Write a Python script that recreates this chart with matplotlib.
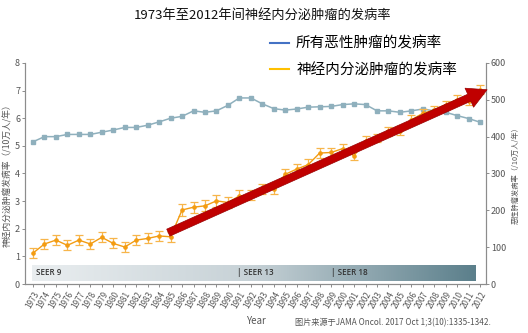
import matplotlib
matplotlib.use('Agg')
import matplotlib.pyplot as plt
import numpy as np
from matplotlib.colors import LinearSegmentedColormap
from matplotlib.lines import Line2D

plt.rcParams['font.family'] = ['Noto Sans CJK SC', 'DejaVu Sans']

years = list(range(1973, 2013))

# all malignant tumours, per 100k (right axis)
malignant_rate = [386, 400, 400, 406, 406, 406, 412, 418, 425, 425,
                  431, 440, 450, 455, 470, 466, 470, 485, 505, 505,
                  489, 476, 472, 475, 480, 481, 482, 487, 489, 487,
                  470, 470, 466, 470, 475, 470, 466, 457, 449, 439]

# neuroendocrine tumours, per 100k (left axis)
net_rate = [1.12, 1.45, 1.59, 1.40, 1.59, 1.45, 1.69, 1.47, 1.34, 1.59,
            1.65, 1.74, 1.71, 2.68, 2.78, 2.83, 3.01, 2.95, 3.19, 3.21,
            3.44, 3.45, 3.97, 4.16, 4.32, 4.74, 4.76, 4.90, 4.64, 5.19,
            5.28, 5.52, 5.55, 5.94, 6.18, 6.30, 6.49, 6.67, 6.64, 7.03]
net_err = [0.18, 0.18, 0.18, 0.18, 0.19, 0.18, 0.18, 0.18, 0.17, 0.18,
           0.18, 0.19, 0.18, 0.21, 0.20, 0.20, 0.21, 0.20, 0.20, 0.18,
           0.18, 0.20, 0.20, 0.19, 0.20, 0.18, 0.18, 0.15, 0.16, 0.15,
           0.15, 0.16, 0.16, 0.17, 0.17, 0.16, 0.15, 0.16, 0.17, 0.16]

seer_labels = ['SEER 9', '| SEER 13', '| SEER 18']
seer_years = [1973.3, 1990.8, 1999.0]

trend_start = (1984.8, 1.86)
trend_end = (2012.6, 7.03)

fig = plt.figure(figsize=(5.28, 3.33), dpi=100)
ax = fig.add_axes([0.0473, 0.147, 0.873, 0.664])
ax2 = ax.twinx()
ax.set_zorder(ax2.get_zorder() + 1)
ax.patch.set_visible(False)

grey = '#8c8c8c'
txt = '#555555'

ax2.plot(years, malignant_rate, color='#8fb0bd', marker='s', markersize=2.8, lw=1.1)

ax.errorbar(years, net_rate, yerr=net_err, color='#f39c12', ecolor='#f7b54a',
            marker='o', markersize=2.3, lw=1.0, elinewidth=0.9, capsize=2.8, capthick=0.9)

# SEER gradient band
cmap = LinearSegmentedColormap.from_list('seer', ['#eaeef0', '#c6d1d6', '#5b7f8b'])
grad = np.linspace(0, 1, 256).reshape(1, -1)
ax.imshow(grad, cmap=cmap, extent=[1972.9, 2011.6, 0.12, 0.69], aspect='auto', zorder=1)
for lab, yx in zip(seer_labels, seer_years):
    ax.text(yx, 0.40, lab, fontsize=5.8, color='#333333', va='center', ha='left',
            family=['Open Sans', 'DejaVu Sans'], fontweight='semibold', zorder=2)

ax.annotate('', xy=trend_end, xytext=trend_start, annotation_clip=False,
            arrowprops=dict(width=5.5, headwidth=15, headlength=14,
                            facecolor='#c00000', edgecolor='#9a0000', lw=0.5),
            zorder=10)

ax.set_xlim(1972.3, 2012.5)
ax.set_ylim(0, 8)
ax2.set_ylim(0, 600)
ax.set_yticks(range(0, 9))
ax2.set_yticks(range(0, 601, 100))
ax.set_xticks(years)
ax.set_xticklabels([str(y) for y in years], rotation=60, ha='right',
                   rotation_mode='anchor', fontsize=5.8, color=txt)

for a in (ax, ax2):
    for s in a.spines.values():
        s.set_color(grey)
        s.set_linewidth(0.8)
    a.spines['top'].set_visible(False)
    a.tick_params(colors=grey, labelcolor=txt, labelsize=6.5, length=2, width=0.7, pad=1.5)
ax.tick_params(axis='x', labelsize=5.8, length=2.5, pad=2)

ax.set_ylabel('神经内分泌肿瘤发病率（/10万人/年）', fontsize=6.3, color=txt)
ax.yaxis.set_label_coords(-0.027, 0.5)
ax2.set_ylabel('恶性肿瘤发病率（/10万人/年）', fontsize=5.2, color=txt, labelpad=4)
ax.set_xlabel('Year', fontsize=7, color=txt, labelpad=4)

fig.text(0.497, 0.955, '1973年至2012年间神经内分泌肿瘤的发病率', ha='center', va='center',
         fontsize=9.5, color='#111111')

handles = [Line2D([], [], color='#4472c4', lw=1.5), Line2D([], [], color='#ffc000', lw=1.5)]
fig.legend(handles, ['所有恶性肿瘤的发病率', '神经内分泌肿瘤的发病率'], loc='upper left',
           bbox_to_anchor=(0.511, 0.89), frameon=False, fontsize=10.5,
           handlelength=1.3, handletextpad=0.5, labelspacing=0.85, borderpad=0,
           borderaxespad=0)

fig.text(0.93, 0.03, '图片来源于JAMA Oncol. 2017 Oct 1;3(10):1335-1342.', ha='right',
         va='center', fontsize=5.9, color=txt)

fig.savefig('out.png', dpi=100)
